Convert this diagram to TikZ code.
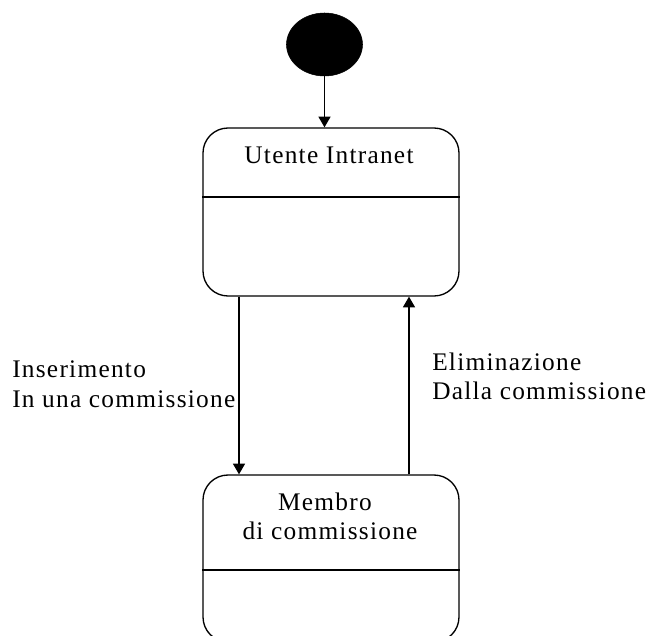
\documentclass[tikz,border=0pt]{standalone}
\usepackage{fontspec}
\setmainfont{Liberation Serif}[LetterSpace=5]
\usetikzlibrary{arrows.meta,shapes.geometric}
\begin{document}
\begin{tikzpicture}[x=0.75pt,y=-0.75pt,
  txt/.style={font=\fontsize{19}{23}\selectfont, inner sep=0pt},
  statebox/.style={draw, line width=1pt, rounded corners=18.75pt,
    minimum width=192pt, inner sep=0pt},
  initstate/.style={ellipse, draw, fill=black, minimum width=57pt,
    minimum height=47.25pt, inner sep=0pt},
  trans/.style={draw, line width=1pt, -{Triangle[width=9pt,length=8pt]}},
  divider/.style={line width=1pt}]
\useasboundingbox (0,0) rectangle (651,636);
\fill[white] (0,0) rectangle (651,636);
\clip (0,0) rectangle (651,636);

% states
\node[initstate] (init) at (324.5,44.5) {};
\node[statebox, minimum height=126pt] (ui) at (331,212) {};
\node[statebox, minimum height=125.25pt] (mc) at (331,558.5) {};

% compartment lines
\coordinate (uidiv) at (0,197);
\coordinate (mcdiv) at (0,570);
\draw[divider] (ui.west |- uidiv) -- (ui.east |- uidiv);
\draw[divider] (mc.west |- mcdiv) -- (mc.east |- mcdiv);

% state names
\node[txt, anchor=base] (uiname) at (329,163) {Utente Intranet};
\node[txt, anchor=base] (mcname1) at (325,510) {Membro};
\node[txt, anchor=base] (mcname2) at (330,539) {di commissione};

% transitions
\coordinate (downx) at (239,0);
\coordinate (upx) at (409,0);
\draw[trans] (init.south) -- (init.south |- ui.north);
\draw[trans] (downx |- ui.south) -- (downx |- mc.north);
\draw[trans] (upx |- mc.north) -- (upx |- ui.south);

% transition labels
\node[txt, anchor=base west] (ins1) at (12,377) {Inserimento};
\node[txt, anchor=base west] (ins2) at (12,407) {In una commissione};
\node[txt, anchor=base west] (eli1) at (432,370) {Eliminazione};
\node[txt, anchor=base west] (eli2) at (432,399) {Dalla commissione};
\end{tikzpicture}
\end{document}
